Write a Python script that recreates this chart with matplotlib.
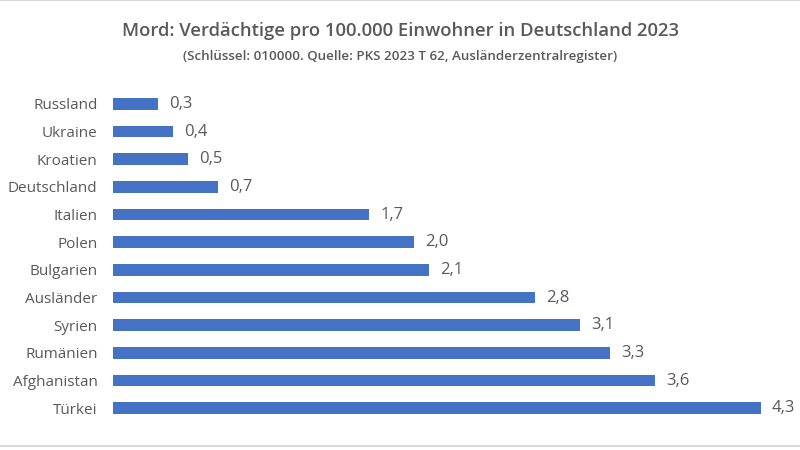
import matplotlib
matplotlib.use("Agg")
import matplotlib.pyplot as plt
from matplotlib.lines import Line2D

countries = ["Russland", "Ukraine", "Kroatien", "Deutschland", "Italien", "Polen",
             "Bulgarien", "Ausländer", "Syrien", "Rumänien", "Afghanistan", "Türkei"]
values = [0.3, 0.4, 0.5, 0.7, 1.7, 2.0, 2.1, 2.8, 3.1, 3.3, 3.6, 4.3]

title = "Mord: Verdächtige pro 100.000 Einwohner in Deutschland 2023"
subtitle = "(Schlüssel: 010000. Quelle: PKS 2023 T 62, Ausländerzentralregister)"

grey = "#595959"
blue = "#4472C4"
plt.rcParams["font.family"] = ["Open Sans", "DejaVu Sans"]

fig = plt.figure(figsize=(8, 4.5), dpi=100)
ax = fig.add_axes([0.141, 0.062, 0.81, 0.738])

pos = range(len(countries))
ax.barh(pos, values, height=0.42, color=blue)
ax.set_yticks(list(pos))
ax.set_yticklabels(countries, color=grey, fontsize=11)
ax.set_ylim(len(countries) - 0.5, -0.5)
ax.set_xlim(0, 4.3)
ax.set_xticks([])
ax.tick_params(axis="y", length=0, pad=11)
for s in ax.spines.values():
    s.set_visible(False)

for i, v in enumerate(values):
    ax.text(v + 0.075, i, f"{v:.1f}".replace(".", ","), va="center", ha="left",
            color=grey, fontsize=12, clip_on=False)

fig.text(0.5, 0.932, title, ha="center", va="center", color=grey,
         fontsize=13.3, fontweight="semibold")
fig.text(0.5, 0.875, subtitle, ha="center", va="center", color=grey,
         fontsize=9.6, fontweight="semibold")

fig.add_artist(Line2D([0, 1], [0.999, 0.999], color="#d9d9d9", lw=1.5))
fig.add_artist(Line2D([0, 1], [0.008, 0.008], color="#d9d9d9", lw=1.5))

fig.savefig("out.png", dpi=100)
